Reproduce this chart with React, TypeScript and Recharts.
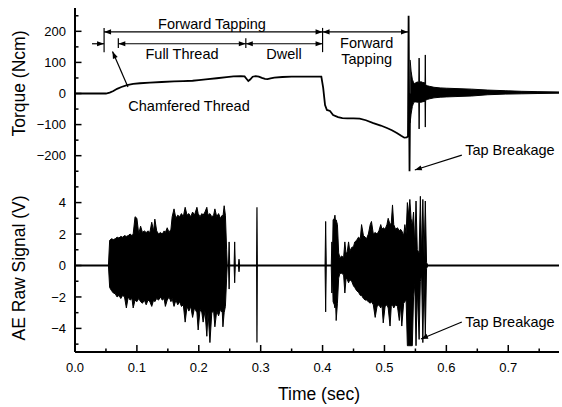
import { ComposedChart, Line, Area, XAxis, YAxis, ReferenceLine, ReferenceDot } from "recharts";

const FONT = "'Liberation Sans', Arial, Helvetica, sans-serif";

const timeTicks = [0, 0.05, 0.1, 0.15, 0.2, 0.25, 0.3, 0.35, 0.4, 0.45, 0.5, 0.55, 0.6, 0.65, 0.7, 0.75];
const torqueTicks = [-250, -200, -150, -100, -50, 0, 50, 100, 150, 200, 250];
const aeTicks = [-5, -4, -3, -2, -1, 0, 1, 2, 3, 4, 5];

// torque trace [time s, Ncm] up to the breakage spike
const torqueTrace: [number, number][] = [
  [0, 0], [0.05, 0], [0.056, 3], [0.062, 8], [0.068, 15], [0.075, 21], [0.084, 27],
  [0.094, 31], [0.105, 33], [0.121, 35], [0.14, 37], [0.16, 39], [0.175, 40], [0.19, 41],
  [0.2, 43], [0.215, 46], [0.229, 49], [0.245, 53], [0.256, 55], [0.268, 56], [0.274, 55],
  [0.278, 45], [0.28, 40], [0.283, 45], [0.287, 54], [0.292, 56], [0.297, 54], [0.302, 50],
  [0.307, 47], [0.311, 46], [0.316, 49], [0.322, 51], [0.335, 53], [0.35, 54], [0.37, 54],
  [0.398, 54], [0.401, 18], [0.404, -37], [0.407, -53], [0.412, -56], [0.417, -69],
  [0.425, -76], [0.432, -79], [0.44, -80], [0.45, -80], [0.46, -81], [0.47, -86],
  [0.482, -95], [0.494, -103], [0.504, -111], [0.512, -118], [0.52, -127], [0.527, -136],
  [0.532, -142], [0.536, -141], [0.538, -138], [0.539, 250], [0.5405, -250], [0.5415, 0],
];

// ringing after breakage [time, upper, lower]
const torqueRinging: [number, number, number][] = [
  [0.5415, 108, -95], [0.543, 72, -66], [0.545, 46, -42], [0.547, 35, -30], [0.549, 32, -27],
  [0.551, 35, -27], [0.553, 37, -28], [0.5555, 36, -28], [0.556, 114, -114], [0.5565, 36, -28],
  [0.559, 38, -28], [0.561, 36, -27], [0.5655, 34, -25], [0.566, 124, -108], [0.5665, 28, -22],
  [0.569, 25, -19], [0.573, 23, -17], [0.58, 20, -14], [0.59, 18, -12], [0.6, 17, -11],
  [0.614, 16, -10], [0.641, 14, -8], [0.667, 11, -4], [0.695, 9, -2], [0.722, 7, -1],
  [0.748, 6, 0], [0.782, 5, 1],
];

// AE envelope, first burst [time, upper, lower]
const aeBurst1: [number, number, number][] = [
  [0.054, 0, 0], [0.056, 1.6, -1.4], [0.059, 1.7, -1.6], [0.062, 1.65, -1.75], [0.065, 1.7, -1.8],
  [0.068, 1.8, -2.0], [0.071, 1.75, -1.9], [0.074, 1.85, -2.1], [0.077, 1.8, -1.9], [0.08, 1.9, -2.0],
  [0.083, 1.85, -2.7], [0.086, 1.9, -2.0], [0.089, 2.0, -2.2], [0.092, 1.9, -2.1], [0.094, 2.0, -2.7],
  [0.097, 3.1, -2.2], [0.1, 3.0, -2.3], [0.103, 2.0, -2.1], [0.106, 2.5, -2.3], [0.109, 2.1, -2.4],
  [0.112, 2.2, -2.2], [0.115, 2.1, -2.5], [0.118, 2.2, -2.2], [0.121, 2.1, -2.3], [0.124, 2.75, -2.6],
  [0.127, 2.2, -2.2], [0.129, 2.95, -2.3], [0.132, 2.2, -2.1], [0.135, 2.0, -2.2], [0.138, 2.1, -2.0],
  [0.141, 2.0, -2.2], [0.144, 2.2, -2.1], [0.146, 2.1, -2.6], [0.149, 2.4, -2.2], [0.152, 2.1, -2.0],
  [0.155, 2.3, -2.3], [0.157, 3.1, -2.1], [0.16, 3.6, -2.6], [0.163, 3.0, -2.2], [0.166, 3.2, -2.5],
  [0.169, 3.1, -2.3], [0.172, 3.3, -2.6], [0.175, 3.1, -2.5], [0.178, 3.7, -3.6], [0.181, 3.2, -2.6],
  [0.184, 3.3, -2.9], [0.187, 3.1, -2.6], [0.19, 3.4, -3.3], [0.193, 3.2, -2.7], [0.197, 3.7, -3.0],
  [0.199, 3.3, -4.1], [0.202, 3.1, -2.8], [0.205, 3.3, -3.0], [0.207, 3.2, -3.6], [0.21, 3.4, -2.9],
  [0.213, 3.7, -4.5], [0.215, 3.2, -3.0], [0.218, 3.3, -4.9], [0.221, 3.1, -3.0], [0.224, 3.2, -2.9],
  [0.226, 3.6, -3.9], [0.229, 3.1, -2.9], [0.232, 3.3, -3.2], [0.235, 3.0, -2.8], [0.238, 3.2, -3.0],
  [0.239, 3.1, -3.9], [0.241, 3.8, -3.0], [0.243, 3.2, -2.6], [0.245, 1.0, -0.8], [0.246, 0, 0],
  [0.248, 0, 0], [0.249, 1.5, -1.5], [0.25, 0, 0], [0.257, 0, 0], [0.258, 1.5, -1.1],
  [0.259, 0, 0], [0.264, 0, 0], [0.265, 0.4, -0.4], [0.266, 0, 0],
];

// isolated AE spike
const aeSpike: [number, number, number][] = [[0.2935, 0, 0], [0.294, 3.7, -4.9], [0.2945, 0, 0]];

// AE envelope, second burst
const aeBurst2: [number, number, number][] = [
  [0.404, 0, 0], [0.405, 2.8, -2.95], [0.406, 0, 0], [0.414, 0, 0], [0.415, 1.5, -1.75],
  [0.416, 0.6, -0.6], [0.417, 2.9, -2.3], [0.419, 3.0, -2.5], [0.42, 3.2, -2.7], [0.421, 2.8, -2.3],
  [0.422, 2.9, -3.5], [0.424, 2.6, -2.4], [0.426, 0.8, -0.8], [0.428, 0.5, -0.5], [0.431, 0.6, -0.5],
  [0.434, 0.5, -0.6], [0.436, 1.5, -1.75], [0.438, 0.7, -0.8], [0.44, 0.9, -0.9], [0.442, 1.5, -1.1],
  [0.444, 0.9, -0.9], [0.447, 1.15, -1.0], [0.45, 1.2, -1.3], [0.452, 1.5, -1.4], [0.455, 1.6, -1.6],
  [0.458, 1.8, -1.7], [0.461, 1.7, -1.9], [0.463, 2.6, -1.9], [0.466, 1.9, -2.1], [0.469, 1.8, -2.2],
  [0.471, 1.7, -2.2], [0.474, 2.0, -2.3], [0.477, 2.6, -2.4], [0.479, 2.8, -2.3], [0.482, 2.0, -2.5],
  [0.485, 2.1, -3.3], [0.488, 2.0, -2.6], [0.491, 2.2, -2.5], [0.494, 2.6, -2.7], [0.496, 2.3, -2.5],
  [0.498, 2.4, -3.65], [0.501, 2.3, -2.6], [0.504, 2.6, -2.5], [0.506, 3.0, -2.7], [0.509, 2.6, -3.85],
  [0.511, 2.7, -2.6], [0.513, 3.85, -2.5], [0.515, 2.6, -2.7], [0.518, 2.3, -2.5], [0.521, 2.4, -2.6],
  [0.524, 2.2, -3.5], [0.526, 2.3, -2.5], [0.528, 2.2, -3.85], [0.531, 1.9, -2.4], [0.533, 2.6, -2.3],
  [0.535, 2.0, -2.2], [0.537, 4.0, -5.1], [0.539, 3.2, -5.1], [0.541, 4.2, -5.1], [0.543, 3.0, -5.1],
  [0.545, 2.5, -5.1], [0.547, 3.4, -2.0], [0.549, 1.2, -1.2], [0.551, 4.1, -5.1], [0.553, 1.0, -1.5],
  [0.556, 0.8, -4.7], [0.558, 4.4, -1.0], [0.56, 0.6, -0.6], [0.562, 4.2, -4.9], [0.564, 0.5, -0.5],
  [0.566, 4.1, -4.5], [0.568, 0.2, -0.2], [0.57, 0, 0],
];

const toLine = (rows: [number, number][]) => rows.map(([t, v]) => ({ t, v }));
const toBand = (rows: [number, number, number][]) => rows.map(([t, hi, lo]) => ({ t, r: [lo, hi] }));

const T_MAX = 0.782;

function ArrowShape(props: any) {
  const { x1, y1, x2, y2, heads = "" } = props;
  const head = (tx: number, ty: number, fx: number, fy: number) => {
    const a = Math.atan2(ty - fy, tx - fx);
    const L = 7, W = 2.6;
    const bx = tx - L * Math.cos(a), by = ty - L * Math.sin(a);
    return `${tx},${ty} ${bx - W * Math.sin(a)},${by + W * Math.cos(a)} ${bx + W * Math.sin(a)},${by - W * Math.cos(a)}`;
  };
  return (
    <g>
      <line x1={x1} y1={y1} x2={x2} y2={y2} stroke="#000" strokeWidth={1.2} />
      {heads.includes("e") && <polygon points={head(x2, y2, x1, y1)} fill="#000" />}
      {heads.includes("s") && <polygon points={head(x1, y1, x2, y2)} fill="#000" />}
    </g>
  );
}

const textShape = (text: string) => (p: any) => (
  <text x={p.cx} y={p.cy} textAnchor="middle" fontSize={14.5} fontFamily={FONT} fill="#000">
    {text}
  </text>
);

const fmt = (v: number) => (v < 0 ? "\u2212" + Math.abs(v) : String(v));

function TimeTick(props: any) {
  const { x, y, payload, showLabel } = props;
  const v = payload.value;
  const major = Math.round(v * 100) % 10 === 0;
  return (
    <g>
      <line x1={x} x2={x} y1={y} y2={y - (major ? 7 : 3.5)} stroke="#000" strokeWidth={1.5} />
      {showLabel && major && (
        <text x={x} y={y + 20} textAnchor="middle" fontSize={13} fontFamily={FONT} fill="#000">
          {v.toFixed(1)}
        </text>
      )}
    </g>
  );
}

function ValueTick(props: any) {
  const { x, y, payload, step } = props;
  const v = payload.value;
  const major = Math.abs(Math.round(v / step)) % 2 === 0;
  return (
    <g>
      <line x1={x} x2={x + (major ? 6.5 : 3.5)} y1={y} y2={y} stroke="#000" strokeWidth={1.5} />
      {major && (
        <text x={x - 9} y={y} dy="0.36em" textAnchor="end" fontSize={13} fontFamily={FONT} fill="#000">
          {fmt(v)}
        </text>
      )}
    </g>
  );
}

const yTitle = (text: string, dy: number) => (p: any) => {
  const vb = p.viewBox;
  const cx = vb.x + 19;
  const cy = vb.y + dy;
  return (
    <text x={cx} y={cy} transform={`rotate(-90, ${cx}, ${cy})`} textAnchor="middle" dominantBaseline="central"
      fontSize={17.5} fontFamily={FONT} fill="#000">
      {text}
    </text>
  );
};

const axisLine = { stroke: "#000", strokeWidth: 2 };

export default function App() {
  return (
    <div style={{ position: "absolute", left: 0, top: 0, width: 562, height: 407, background: "#fff" }}>
      <div style={{ position: "absolute", left: 0, top: 0 }}>
        <ComposedChart width={562} height={180} margin={{ top: 8, right: 3, bottom: 1, left: 0 }}>
          <XAxis dataKey="t" type="number" domain={[0, T_MAX]} ticks={timeTicks} interval={0}
            height={0} tickSize={0} tickMargin={0} tickLine={false} axisLine={axisLine}
            tick={(p: any) => <TimeTick {...p} showLabel={false} />} />
          <XAxis xAxisId="top" orientation="top" type="number" domain={[0, T_MAX]} height={0}
            tick={false} tickLine={false} axisLine={axisLine} />
          <YAxis type="number" domain={[-275, 275]} ticks={torqueTicks} interval={0} width={75}
            tickSize={0} tickMargin={0} tickLine={false} axisLine={axisLine}
            tick={(p: any) => <ValueTick {...p} step={50} />}
            label={{ content: yTitle("Torque (Ncm)", 75.5) }} />
          <YAxis yAxisId="right" orientation="right" type="number" domain={[-275, 275]} width={0}
            tick={false} tickLine={false} axisLine={axisLine} />

          <Line data={toLine(torqueTrace)} dataKey="v" type="linear" stroke="#000" strokeWidth={1.8}
            dot={false} activeDot={false} isAnimationActive={false} />
          <Area data={toBand(torqueRinging)} dataKey="r" type="linear" stroke="#000" strokeWidth={1}
            fill="#000" fillOpacity={1} dot={false} activeDot={false} isAnimationActive={false} />

          {/* phase dimension lines */}
          <ReferenceLine segment={[{ x: 0.047, y: 198 }, { x: 0.4, y: 198 }]} shape={(p: any) => <ArrowShape {...p} heads="se" />} />
          <ReferenceLine segment={[{ x: 0.4, y: 198 }, { x: 0.538, y: 198 }]} shape={(p: any) => <ArrowShape {...p} heads="se" />} />
          <ReferenceLine segment={[{ x: 0.0275, y: 160 }, { x: 0.047, y: 160 }]} shape={(p: any) => <ArrowShape {...p} heads="e" />} />
          <ReferenceLine segment={[{ x: 0.07, y: 160 }, { x: 0.276, y: 160 }]} shape={(p: any) => <ArrowShape {...p} heads="se" />} />
          <ReferenceLine segment={[{ x: 0.276, y: 160 }, { x: 0.4, y: 160 }]} shape={(p: any) => <ArrowShape {...p} heads="se" />} />
          <ReferenceLine segment={[{ x: 0.047, y: 211 }, { x: 0.047, y: 133 }]} shape={(p: any) => <ArrowShape {...p} />} />
          <ReferenceLine segment={[{ x: 0.07, y: 178 }, { x: 0.07, y: 146 }]} shape={(p: any) => <ArrowShape {...p} />} />
          <ReferenceLine segment={[{ x: 0.276, y: 178 }, { x: 0.276, y: 146 }]} shape={(p: any) => <ArrowShape {...p} />} />
          <ReferenceLine segment={[{ x: 0.4, y: 211 }, { x: 0.4, y: 133 }]} shape={(p: any) => <ArrowShape {...p} />} />
          <ReferenceLine segment={[{ x: 0.0856, y: 21 }, { x: 0.0606, y: 135 }]} shape={(p: any) => <ArrowShape {...p} heads="e" />} />
          <ReferenceLine segment={[{ x: 0.625, y: -198 }, { x: 0.549, y: -246 }]} shape={(p: any) => <ArrowShape {...p} heads="e" />} />

          <ReferenceDot x={0.2213} y={207} r={0} shape={textShape("Forward Tapping")} />
          <ReferenceDot x={0.1729} y={111} r={0} shape={textShape("Full Thread")} />
          <ReferenceDot x={0.3376} y={111} r={0} shape={textShape("Dwell")} />
          <ReferenceDot x={0.4712} y={146} r={0} shape={textShape("Forward")} />
          <ReferenceDot x={0.4712} y={96} r={0} shape={textShape("Tapping")} />
          <ReferenceDot x={0.1842} y={-55} r={0} shape={textShape("Chamfered Thread")} />
          <ReferenceDot x={0.7027} y={-199} r={0} shape={textShape("Tap Breakage")} />
        </ComposedChart>
      </div>

      <div style={{ position: "absolute", left: 0, top: 179 }}>
        <ComposedChart width={562} height={228} margin={{ top: 0, right: 3, bottom: 0, left: 0 }}>
          <XAxis dataKey="t" type="number" domain={[0, T_MAX]} ticks={timeTicks} interval={0}
            height={55} tickSize={0} tickMargin={0} tickLine={false} axisLine={axisLine}
            tick={(p: any) => <TimeTick {...p} showLabel />}
            label={{
              content: (p: any) => (
                <text x={p.viewBox.x + 244} y={p.viewBox.y + 47.5} textAnchor="middle" fontSize={17.5}
                  fontFamily={FONT} fill="#000">
                  Time (sec)
                </text>
              ),
            }} />
          <YAxis type="number" domain={[-5.5, 5.5]} ticks={aeTicks} interval={0} width={75}
            tickSize={0} tickMargin={0} tickLine={false} axisLine={axisLine}
            tick={(p: any) => <ValueTick {...p} step={1} />}
            label={{ content: yTitle("AE Raw Signal (V)", 89) }} />

          <ReferenceLine y={0} stroke="#000" strokeWidth={2} />
          <Area data={toBand(aeBurst1)} dataKey="r" type="linear" stroke="#000" strokeWidth={1}
            fill="#000" fillOpacity={1} dot={false} activeDot={false} isAnimationActive={false} />
          <Area data={toBand(aeSpike)} dataKey="r" type="linear" stroke="#000" strokeWidth={1.2}
            fill="#000" fillOpacity={1} dot={false} activeDot={false} isAnimationActive={false} />
          <Area data={toBand(aeBurst2)} dataKey="r" type="linear" stroke="#000" strokeWidth={1}
            fill="#000" fillOpacity={1} dot={false} activeDot={false} isAnimationActive={false} />

          <ReferenceLine segment={[{ x: 0.625, y: -3.59 }, { x: 0.559, y: -4.67 }]} shape={(p: any) => <ArrowShape {...p} heads="e" />} />
          <ReferenceDot x={0.7027} y={-3.91} r={0} shape={textShape("Tap Breakage")} />
        </ComposedChart>
      </div>
    </div>
  );
}
